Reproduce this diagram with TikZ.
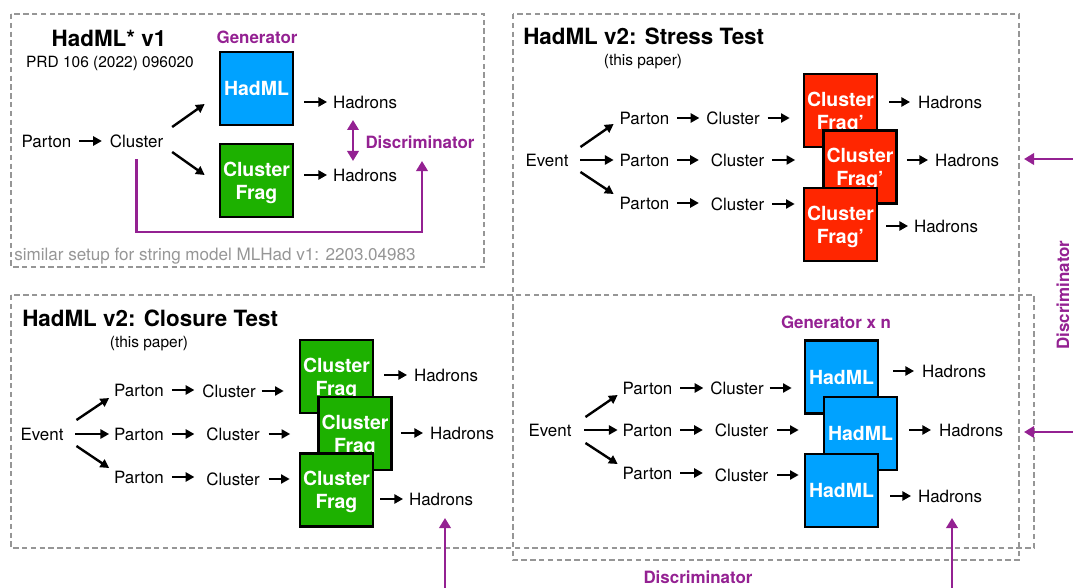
\documentclass[tikz,border=0pt]{standalone}
\usepackage{fontspec}
\setmainfont{TeX Gyre Heros}
\usetikzlibrary{arrows.meta,calc}

\definecolor{hmblue}{RGB}{0,162,255}
\definecolor{hmgreen}{RGB}{29,177,0}
\definecolor{hmred}{RGB}{255,38,0}
\definecolor{hmpurple}{RGB}{148,33,146}
\definecolor{framegrey}{RGB}{150,150,150}

\tikzset{
  lbl/.style={inner sep=0pt, outer sep=0pt, text height=9.1pt, text depth=0pt,
    font=\fontsize{12.7}{15}\selectfont},
  smalltxt/.style={inner sep=0pt, text height=8.35pt, text depth=0pt,
    font=\fontsize{11.6}{14}\selectfont},
  greytxt/.style={inner sep=0pt, text=framegrey, text height=9.2pt, text depth=0pt,
    font=\fontsize{12.8}{15}\selectfont},
  ttl/.style={inner sep=0pt, anchor=west, text height=12.1pt, text depth=0pt,
    font=\bfseries\fontsize{16.8}{20}\selectfont},
  plbl/.style={inner sep=0pt, text=hmpurple, text height=9.1pt, text depth=0pt,
    font=\bfseries\fontsize{12.7}{15}\selectfont},
  unitbox/.style={draw=black, line width=2pt, minimum size=54.75pt, inner sep=0pt,
    text=white, align=center, text depth=0pt,
    font=\bfseries\fontsize{14.6}{17.3}\selectfont},
  hadml/.style={unitbox, fill=hmblue},
  cfrag/.style={unitbox, fill=hmgreen},
  cfragp/.style={unitbox, fill=hmred},
  arr/.style={line width=1.8pt, -{Triangle[length=6.5pt,width=6.8pt]}},
  pline/.style={draw=hmpurple, line width=2.1pt},
  parr/.style={pline, -{Triangle[length=7.5pt,width=8.5pt]}},
  pboth/.style={pline, {Triangle[length=7.5pt,width=8.5pt]}-{Triangle[length=7.5pt,width=8.5pt]}},
  dashframe/.style={draw=framegrey, line width=1.6pt, dash pattern=on 4pt off 2.6pt},
}

\begin{document}
\begin{tikzpicture}[x=0.75pt,y=-0.75pt]
\useasboundingbox (0,0) rectangle (1073,588);

% dashed frames
\draw[dashframe] (11,295) rectangle (1034,548);
\draw[dashframe] (513,14) rectangle (1019,560);
\draw[dashframe] (11,14) rectangle (484,267);

% ---------------- HadML* v1 ----------------
\node[ttl, anchor=center] (tA) at (109,38) {HadML* v1};
\node[smalltxt] (rA) at (110,62) {PRD 106 (2022) 096020};
\node[plbl] (gA) at (257,37) {Generator};
\node[hadml] (hA) at (256.5,88.5) {HadML};
\node[cfrag] (fA) at (256.5,180.5) {Cluster\\Frag};
\node[lbl] (pA) at (46.5,141) {Parton};
\node[lbl] (cA) at (136.5,141) {Cluster};
\node[lbl] (hdA1) at (365,102) {Hadrons};
\node[lbl] (hdA2) at (365,175) {Hadrons};
\node[plbl] (dA) at (420,142) {Discriminator};
\node[greytxt, anchor=west] (nA) at (14,254) {similar setup for string model MLHad v1: 2203.04983};
\coordinate (dtop) at (353,120);
\coordinate (dbot) at (353,161);
\coordinate (dAin) at (422,161);

\draw[arr] ($(pA.east)+(8,0)$) -- ($(cA.west)+(-8,0)$);
\draw[arr] ($(cA.east)+(9,-14)$) -- ($(hA.west)+(-14,15.5)$);
\draw[arr] ($(cA.east)+(9,11)$) -- ($(fA.west)+(-14,-5.5)$);
\draw[arr] ($(hA.east|-hdA1.west)+(10,0)$) -- ($(hdA1.west)+(-6,0)$);
\draw[arr] ($(fA.east|-hdA2.west)+(10,0)$) -- ($(hdA2.west)+(-6,0)$);
\draw[pboth] (dtop) -- (dbot);
\draw[parr] ($(cA.center)+(0,18)$) -- ++(0,73) -| (dAin);

% ---------------- Stress test ----------------
\node[ttl] (tB) at (523,36) {HadML v2: Stress Test};
\node[smalltxt] (sB) at (643,60) {(this paper)};
\node[lbl] (eB) at (547,160) {Event};
\node[lbl] (pB1) at (644.5,118) {Parton};
\node[lbl] (pB2) at (644.5,160) {Parton};
\node[lbl] (pB3) at (644.5,203) {Parton};
\node[lbl] (cB1) at (733,118) {Cluster};
\node[lbl] (cB2) at (737.5,160) {Cluster};
\node[lbl] (cB3) at (737.5,204) {Cluster};
\node[cfragp] (rB1) at (840.5,110.5) {Cluster\\Frag’};
\node[cfragp] (rB2) at (860,167) {Cluster\\Frag’};
\node[cfragp] (rB3) at (840.5,224.5) {Cluster\\Frag’};
\node[lbl] (hB1) at (950,102) {Hadrons};
\node[lbl] (hB2) at (967,160) {Hadrons};
\node[lbl] (hB3) at (946,226) {Hadrons};

\draw[arr] ($(eB.east)+(12,-13)$) -- ($(pB1.west)+(-6,6)$);
\draw[arr] ($(eB.east)+(12,0)$) -- ($(pB2.west)+(-6,0)$);
\draw[arr] ($(eB.east)+(12,12)$) -- ($(pB3.west)+(-6,-9)$);
\draw[arr] ($(pB1.east)+(8,0)$) -- ($(cB1.west)+(-7,0)$);
\draw[arr] ($(pB2.east)+(8,0)$) -- ($(cB2.west)+(-12,0)$);
\draw[arr] ($(pB3.east)+(8,0)$) -- ($(cB3.west|-pB3.east)+(-12,0)$);
\draw[arr] ($(cB1.east)+(8,0)$) -- ($(rB1.west|-cB1.east)+(-13,0)$);
\draw[arr] ($(cB2.east)+(8,0)$) -- ($(rB2.west|-cB2.east)+(-27,0)$);
\draw[arr] ($(cB3.east)+(8,0)$) -- ($(rB3.west|-cB3.east)+(-8,0)$);
\draw[arr] ($(rB1.east|-hB1.west)+(11,0)$) -- ($(hB1.west)+(-8,0)$);
\draw[arr] ($(rB2.east|-hB2.west)+(9,0)$) -- ($(hB2.west)+(-7,0)$);
\draw[arr] ($(rB3.east|-hB3.west)+(8,0)$) -- ($(hB3.west)+(-6,0)$);

% ---------------- Closure test ----------------
\node[ttl] (tC) at (22,318) {HadML v2: Closure Test};
\node[smalltxt] (sC) at (149,342) {(this paper)};
\node[lbl] (eC) at (42,434) {Event};
\node[lbl] (pC1) at (139,390) {Parton};
\node[lbl] (pC2) at (139,434) {Parton};
\node[lbl] (pC3) at (139,477) {Parton};
\node[lbl] (cC1) at (229,391) {Cluster};
\node[lbl] (cC2) at (233,434) {Cluster};
\node[lbl] (cC3) at (233,479) {Cluster};
\node[cfrag] (gC1) at (336.5,376.5) {Cluster\\Frag};
\node[cfrag] (gC2) at (355,433.5) {Cluster\\Frag};
\node[cfrag] (gC3) at (336.5,490) {Cluster\\Frag};
\node[lbl] (hC1) at (446,375) {Hadrons};
\node[lbl] (hC2) at (462,433) {Hadrons};
\node[lbl] (hC3) at (441,499) {Hadrons};

\draw[arr] ($(eC.east)+(13,-14)$) -- ($(pC1.west)+(-5,8)$);
\draw[arr] ($(eC.east)+(12,0)$) -- ($(pC2.west)+(-5,0)$);
\draw[arr] ($(eC.east)+(13,12)$) -- ($(pC3.west)+(-5,-9)$);
\draw[arr] ($(pC1.east)+(8,0)$) -- ($(cC1.west|-pC1.east)+(-8,0)$);
\draw[arr] ($(pC2.east)+(8,0)$) -- ($(cC2.west)+(-12,0)$);
\draw[arr] ($(pC3.east)+(8,0)$) -- ($(cC3.west|-pC3.east)+(-12,0)$);
\draw[arr] ($(cC1.east)+(6,0)$) -- ($(gC1.west|-cC1.east)+(-15,0)$);
\draw[arr] ($(cC2.east)+(9,0)$) -- ($(gC2.west|-cC2.east)+(-27,0)$);
\draw[arr] ($(cC3.east)+(9,0)$) -- ($(gC3.west|-cC3.east)+(-9,0)$);
\draw[arr] ($(gC1.east|-hC1.west)+(10,0)$) -- ($(hC1.west)+(-7,0)$);
\draw[arr] ($(gC2.east|-hC2.west)+(8,0)$) -- ($(hC2.west)+(-7,0)$);
\draw[arr] ($(gC3.east|-hC3.west)+(6,0)$) -- ($(hC3.west)+(-6,0)$);

% ---------------- Generator x n ----------------
\node[plbl] (gD) at (836,322) {Generator x n};
\node[lbl] (eD) at (550,430) {Event};
\node[lbl] (pD1) at (647.5,388) {Parton};
\node[lbl] (pD2) at (647.5,430) {Parton};
\node[lbl] (pD3) at (647.5,473) {Parton};
\node[lbl] (cD1) at (737,388) {Cluster};
\node[lbl] (cD2) at (741.5,430) {Cluster};
\node[lbl] (cD3) at (741.5,475) {Cluster};
\node[hadml] (bD1) at (841.5,377) {HadML};
\node[hadml] (bD2) at (860.5,433.5) {HadML};
\node[hadml] (bD3) at (841.5,490.5) {HadML};
\node[lbl] (hD1) at (954,371) {Hadrons};
\node[lbl] (hD2) at (971,430) {Hadrons};
\node[lbl] (hD3) at (950,496) {Hadrons};

\draw[arr] ($(eD.east)+(14,-13)$) -- ($(pD1.west)+(-5,7)$);
\draw[arr] ($(eD.east)+(13,0)$) -- ($(pD2.west)+(-5,0)$);
\draw[arr] ($(eD.east)+(14,13)$) -- ($(pD3.west)+(-5,-9)$);
\draw[arr] ($(pD1.east)+(8,0)$) -- ($(cD1.west)+(-7,0)$);
\draw[arr] ($(pD2.east)+(8,0)$) -- ($(cD2.west)+(-12,0)$);
\draw[arr] ($(pD3.east)+(8,0)$) -- ($(cD3.west|-pD3.east)+(-12,0)$);
\draw[arr] ($(cD1.east)+(6,0)$) -- ($(bD1.west|-cD1.east)+(-12,0)$);
\draw[arr] ($(cD2.east)+(9,0)$) -- ($(bD2.west|-cD2.east)+(-24,0)$);
\draw[arr] ($(cD3.east)+(9,0)$) -- ($(bD3.west|-cD3.east)+(-5,0)$);
\draw[arr] ($(bD1.east|-hD1.west)+(14,0)$) -- ($(hD1.west)+(-8,0)$);
\draw[arr] ($(bD2.east|-hD2.west)+(11,0)$) -- ($(hD2.west)+(-8,0)$);
\draw[arr] ($(bD3.east|-hD3.west)+(11,0)$) -- ($(hD3.west)+(-7,0)$);

% ---------------- discriminator feeds ----------------
\node[plbl] (dD) at (698,577) {Discriminator};
\node[plbl, rotate=90] (dV) at (1063,295) {Discriminator};
\coordinate (rin1) at (1090,159);
\coordinate (rtip1) at (1024,159);
\coordinate (rin2) at (1090,432);
\coordinate (rtip2) at (1024,432);
\coordinate (bin1) at (445,600);
\coordinate (btip1) at (445,518);
\coordinate (bin2) at (952,600);
\coordinate (btip2) at (952,518);
\draw[parr] (rin1) -- (rtip1);
\draw[parr] (rin2) -- (rtip2);
\draw[parr] (bin1) -- (btip1);
\draw[parr] (bin2) -- (btip2);

\end{tikzpicture}
\end{document}
